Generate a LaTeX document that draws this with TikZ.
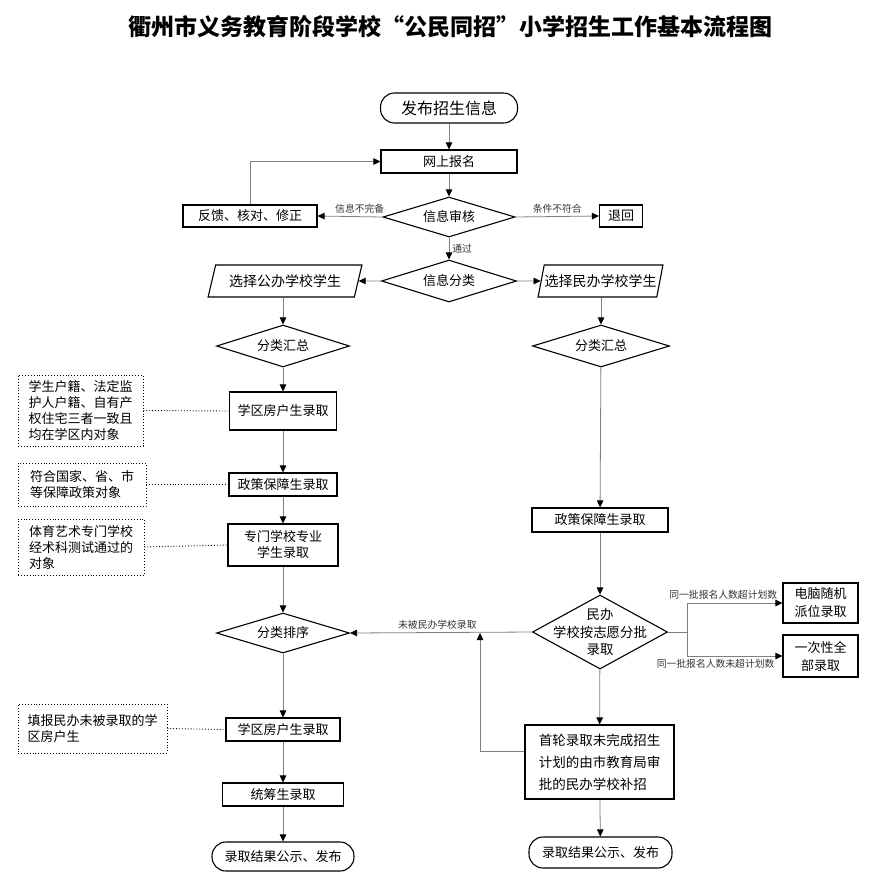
\documentclass[tikz,border=0pt]{standalone}
\usepackage{fontspec}
\setmainfont{Noto Sans CJK SC}
\usetikzlibrary{arrows.meta,shapes.geometric,positioning}

\begin{document}
\begin{tikzpicture}[x=1pt,y=-1pt,
  box/.style={draw=black,line width=1.1pt,inner sep=0pt,align=center,font=\fontsize{13}{16}\selectfont},
  endbox/.style={box,rounded corners=14pt},
  dec/.style={box,shape=diamond,aspect=3},
  io/.style={box,trapezium,trapezium left angle=65,trapezium right angle=115,trapezium stretches=true,font=\fontsize{14}{16}\selectfont},
  note/.style={draw=black,dotted,line width=0.9pt,inner sep=0pt,align=left,font=\fontsize{13}{16}\selectfont},
  conn/.style={draw=black!50,line width=0.8pt,-{Triangle[length=7pt,width=6.5pt,color=black]}},
  tag/.style={font=\fontsize{9.8}{11}\selectfont,text=black!80,inner sep=3pt},
  dots/.style={draw=black,dotted,line width=0.9pt}]
  \useasboundingbox (0,0) rectangle (880,876);

  % 标题
  \node[font=\fontsize{23}{26}\selectfont\bfseries] (title) at (450,27) {衢州市义务教育阶段学校“公民同招”小学招生工作基本流程图};

  % 报名与审核
  \node[endbox,minimum width=137,minimum height=30,font=\fontsize{16}{18}\selectfont] (fabu) at (449,108) {发布招生信息};
  \node[box,minimum width=136,minimum height=23] (baoming) at (449,161.5) {网上报名};
  \node[dec,minimum width=132,minimum height=40] (shenhe) at (449,217) {信息审核};
  \node[box,minimum width=134,minimum height=22] (fankui) at (250,216) {反馈、核对、修正};
  \node[box,minimum width=43,minimum height=22] (tuihui) at (621,216) {退回};
  \node[dec,minimum width=135,minimum height=42] (fenlei) at (449,281) {信息分类};
  \node[io,minimum width=154,minimum height=32] (gongban) at (285,281) {选择公办学校学生};
  \node[io,minimum width=125,minimum height=32] (minban) at (600.5,281) {选择民办学校学生};

  \draw[conn] (fabu) -- (baoming);
  \draw[conn] (baoming) -- (shenhe);
  \draw[conn] (shenhe.west) -- (fankui.east) node[tag,above,pos=0.35]{信息不完备};
  \draw[conn] (fankui.north) |- (baoming.west);
  \draw[conn] (shenhe.east) -- (tuihui.west) node[tag,above,midway]{条件不符合};
  \draw[conn] (shenhe.south) -- (fenlei.north) node[tag,right,midway]{通过};
  \draw[conn] (fenlei.west) -- (gongban.east);
  \draw[conn] (fenlei.east) -- (minban.west);

  % 公办学校一侧
  \node[dec,minimum width=133,minimum height=42] (huizong1) at (283,346) {分类汇总};
  \node[box,minimum width=107,minimum height=38] (xuequ1) at (283,411) {学区房户生录取};
  \node[box,minimum width=108,minimum height=23] (zhengce1) at (283,484.5) {政策保障生录取};
  \node[box,minimum width=110,minimum height=42] (zhuanmen) at (283,545) {专门学校专业\\学生录取};
  \node[dec,minimum width=133,minimum height=40] (paixu) at (283,633) {分类排序};
  \node[box,minimum width=114,minimum height=23] (xuequ2) at (283,729.5) {学区房户生录取};
  \node[box,minimum width=121,minimum height=23] (tongchou) at (283,794.5) {统筹生录取};
  \node[endbox,minimum width=142,minimum height=29] (jieguo1) at (283,856.5) {录取结果公示、发布};

  \node[note,minimum width=125,minimum height=71] (note1) at (80.5,410.5) {学生户籍、法定监\\护人户籍、自有产\\权住宅三者一致且\\均在学区内对象};
  \node[note,minimum width=128,minimum height=43] (note2) at (82,484.5) {符合国家、省、市\\等保障政策对象};
  \node[note,minimum width=126,minimum height=56] (note3) at (81,547) {体育艺术专门学校\\经术科测试通过的\\对象};
  \node[note,minimum width=149,minimum height=49] (note4) at (92.5,728.5) {填报民办未被录取的学\\区房户生};

  \draw[conn] (gongban.south -| huizong1.north) -- (huizong1.north);
  \draw[conn] (huizong1) -- (xuequ1);
  \draw[conn] (xuequ1) -- (zhengce1);
  \draw[conn] (zhengce1) -- (zhuanmen);
  \draw[conn] (zhuanmen) -- (paixu);
  \draw[conn] (paixu) -- (xuequ2);
  \draw[conn] (xuequ2) -- (tongchou);
  \draw[conn] (tongchou) -- (jieguo1);
  \draw[dots] (note1.east) -- (xuequ1.west);
  \draw[dots] (note2.east) -- (zhengce1.west);
  \draw[dots] (note3.east) -- (zhuanmen.west);
  \draw[dots] (note4.east) -- (xuequ2.west);

  % 民办学校一侧
  \node[dec,minimum width=137,minimum height=42] (huizong2) at (601,346) {分类汇总};
  \node[box,minimum width=136,minimum height=24] (zhengce2) at (600,520) {政策保障生录取};
  \node[dec,minimum width=135,minimum height=74] (zhiyuan) at (600,632) {};
  \node[align=center,font=\fontsize{13.4}{17.5}\selectfont] at (zhiyuan) {民办\\学校按志愿分批\\录取};
  \node[box,minimum width=75,minimum height=40,font=\fontsize{13}{18}\selectfont] (diannao) at (820.5,603) {电脑随机\\派位录取};
  \node[box,minimum width=75,minimum height=42,font=\fontsize{13}{18}\selectfont] (yici) at (820.5,656) {一次性全\\部录取};
  \node[box,minimum width=149,minimum height=74,align=left,font=\fontsize{13.5}{22}\selectfont] (shoulun) at (599.5,762) {首轮录取未完成招生\\计划的由市教育局审\\批的民办学校补招};
  \node[endbox,minimum width=143,minimum height=31] (jieguo2) at (600.5,852.5) {录取结果公示、发布};
  \coordinate (fencha) at (687,632);
  \coordinate (huiliu) at (480,633);

  \draw[conn] (minban.south -| huizong2.north) -- (huizong2.north);
  \draw[conn] (huizong2) -- (zhengce2);
  \draw[conn] (zhengce2) -- (zhiyuan);
  \draw[conn] (zhiyuan) -- (shoulun);
  \draw[conn] (shoulun) -- (jieguo2);
  \draw[draw=black!50,line width=0.8pt] (zhiyuan.east) -- (fencha);
  \draw[conn] (fencha) |- (diannao.west) node[tag,above,pos=0.69]{同一批报名人数超计划数};
  \draw[conn] (fencha) |- (yici.west) node[tag,below,pos=0.65]{同一批报名人数未超计划数};
  \draw[conn] (zhiyuan.west) -- (paixu.east) node[tag,above,pos=0.52]{未被民办学校录取};
  \draw[conn] ([yshift=11pt]shoulun.west) -| (huiliu);
\end{tikzpicture}
\end{document}
